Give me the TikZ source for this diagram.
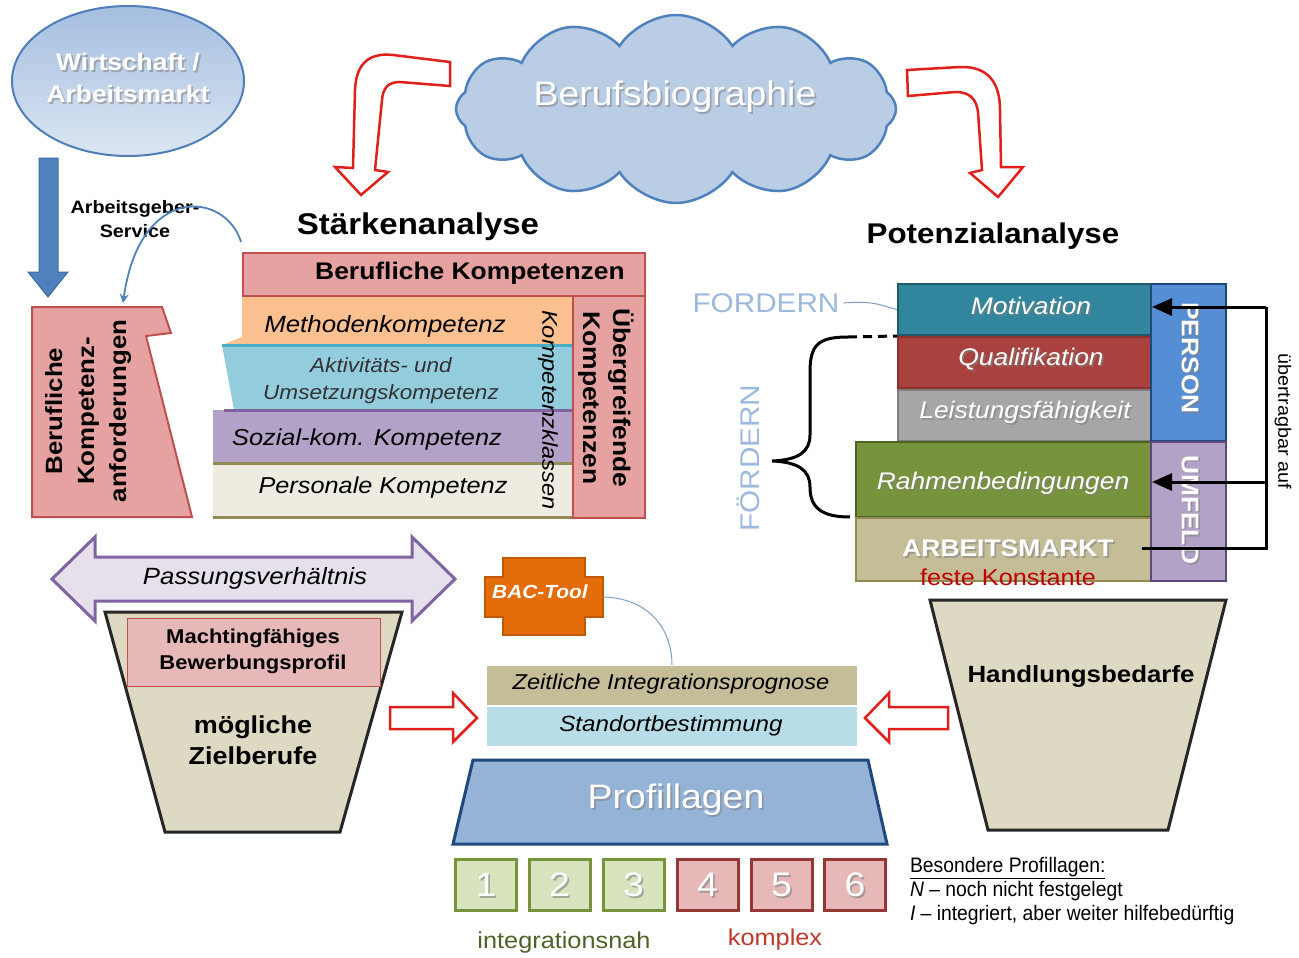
\documentclass[tikz,border=0pt]{standalone}
\usepackage{fontspec}
\setmainfont{Liberation Sans}[FakeStretch=1.1]
\newfontfamily\narrowf{Liberation Sans}[FakeStretch=0.92]
\usetikzlibrary{shapes.symbols,shapes.geometric,arrows.meta}
\newcommand\fsz[1]{\fontsize{#1}{\fpeval{1.15*#1}}\selectfont}
\newcommand\shnode[4]{%
  \node[#2, text=black!50, opacity=0.55] (#1s) at ([shift={(1.8,1.8)}]#3) {#4};
  \node[#2] (#1) at (#3) {#4};}

\definecolor{wBorder}{HTML}{4F7EBA}
\definecolor{wTop}{HTML}{A4BEE0}
\definecolor{wBot}{HTML}{DCE6F2}
\definecolor{cloudF}{HTML}{B9CDE5}
\definecolor{arrBlue}{HTML}{4F81BD}
\definecolor{arrBlueD}{HTML}{3C6CA8}
\definecolor{redA}{HTML}{E0201B}
\definecolor{pinkF}{HTML}{E6A2A1}
\definecolor{pinkD}{HTML}{C0504D}
\definecolor{orangeF}{HTML}{FAC090}
\definecolor{blueF}{HTML}{93CDDD}
\definecolor{tealL}{HTML}{4BACC6}
\definecolor{purpleF}{HTML}{B3A2C7}
\definecolor{purpleD}{HTML}{8064A2}
\definecolor{beigeF}{HTML}{EEECE1}
\definecolor{oliveD}{HTML}{948A54}
\definecolor{lavF}{HTML}{E5E0EC}
\definecolor{funnelF}{HTML}{DDD9C3}
\definecolor{funnelD}{HTML}{262626}
\definecolor{machF}{HTML}{E6B9B8}
\definecolor{bacF}{HTML}{E46C0A}
\definecolor{bacD}{HTML}{C05A08}
\definecolor{tanF}{HTML}{C4BD97}
\definecolor{standF}{HTML}{B7DEE8}
\definecolor{profF}{HTML}{95B3D7}
\definecolor{profD}{HTML}{1F497D}
\definecolor{greenF}{HTML}{D7E4BD}
\definecolor{greenD}{HTML}{77933C}
\definecolor{redF}{HTML}{E6B9B8}
\definecolor{redD}{HTML}{953735}
\definecolor{motF}{HTML}{31859C}
\definecolor{motD}{HTML}{215968}
\definecolor{qualF}{HTML}{A9423F}
\definecolor{qualD}{HTML}{8B3230}
\definecolor{leistF}{HTML}{A6A6A6}
\definecolor{leistD}{HTML}{7F7F7F}
\definecolor{rahmF}{HTML}{77933C}
\definecolor{rahmD}{HTML}{4F6228}
\definecolor{persF}{HTML}{558ED5}
\definecolor{umfF}{HTML}{B3A2C7}
\definecolor{umfD}{HTML}{5F497A}
\definecolor{fordC}{HTML}{9DB9DE}
\definecolor{intC}{HTML}{4F6228}
\definecolor{kompC}{HTML}{C0392B}
\definecolor{festC}{HTML}{C00000}
\definecolor{thinC}{HTML}{7F9FC8}

\tikzset{
  txt/.style={inner sep=0pt, outer sep=0pt},
  openarrow/.style={draw=redA, fill=white, line width=2.5pt, line join=miter},
  box/.style={draw, line width=2pt, inner sep=0pt, anchor=north west},
  stacktxt/.style={txt, text=white, font=\itshape\fsz{24}},
  numbox/.style={draw, line width=3pt, minimum width=61pt, minimum height=51pt, inner sep=0pt},
  blackarrow/.style={line width=3pt, -{Triangle[length=20pt,width=17pt]}},
  funnel/.style={fill=funnelF, draw=funnelD, line width=3pt, line join=miter},
}

\begin{document}
\begin{tikzpicture}[x=1pt,y=-1pt]
\useasboundingbox (0,0) rectangle (1299,958);
\fill[white] (0,0) rectangle (1299,958);

% ---------- Wirtschaft / Arbeitsmarkt ----------
\node[ellipse, draw=wBorder, line width=2pt, top color=wTop, bottom color=wBot,
      minimum width=232pt, minimum height=150pt] (wirt) at (128,81) {};
\shnode{wirtt}{txt, text=white, font=\bfseries\fontsize{24}{32}\selectfont, align=center}{128,78}{Wirtschaft /\\Arbeitsmarkt}

% blue block arrow down
\fill[arrBlue, draw=arrBlueD, line width=1pt]
  (39,158) -- (58,158) -- (58,272) -- (68,272) -- (48,297) -- (28,272) -- (39,272) -- cycle;

\node[txt, font=\bfseries\fontsize{18}{24}\selectfont, align=center] (ags) at (135,219) {Arbeitsgeber-\\Service};

% ---------- Cloud ----------
\node[cloud, cloud puffs=12, cloud puff arc=115, cloud ignores aspect, draw=arrBlue, line width=2.5pt,
      fill=cloudF, minimum width=440pt, minimum height=188pt] (cloud) at (676,109) {};
\shnode{cloudt}{txt, text=white, font=\fsz{34}}{675,97}{Berufsbiographie}

% bent red arrows
\path[openarrow] (450,62) -- (393,55) .. controls (365,52) and (356,68) .. (355,90) -- (353,168)
  -- (335,167) -- (361,195) -- (388,172) -- (375,170) -- (382,100)
  .. controls (383,88) and (388,82) .. (400,82) -- (450,86) -- cycle;
\path[openarrow] (907,70) -- (960,67) .. controls (990,66) and (1000,85) .. (1000,110) -- (1001,167)
  -- (1023,167) -- (998,197) -- (970,173) -- (982,170) -- (978,112)
  .. controls (976,97) and (968,92) .. (955,92) -- (908,96) -- cycle;

% titles
\node[txt, font=\bfseries\fsz{30}] (staerke) at (418,227) {Stärkenanalyse};
\node[txt, font=\bfseries\fsz{28.5}] (potenz) at (993,236) {Potenzialanalyse};

% ---------- Stärkenanalyse block ----------
\fill[orangeF] (242,296) -- (572,296) -- (572,345) -- (222,345) -- (242,337) -- cycle;
\fill[blueF] (222,345) -- (572,345) -- (572,410) -- (234,410) -- cycle;
\fill[purpleF] (213,410) -- (572,410) -- (572,463) -- (213,463) -- cycle;
\fill[beigeF] (213,463) -- (572,463) -- (572,517) -- (213,517) -- cycle;
\draw[tealL, line width=3pt] (222,345) -- (572,345);
\draw[purpleD, line width=3pt] (224,410) -- (572,410);
\draw[oliveD, line width=3pt] (213,463) -- (572,463);
\draw[oliveD, line width=3pt] (213,517) -- (572,517);
\node[box, draw=pinkD, fill=pinkF, minimum width=402pt, minimum height=43pt] (bk) at (242,252) {};
\node[txt, font=\bfseries\fsz{24}] (bkt) at (470,273) {Berufliche Kompetenzen};
\node[box, draw=pinkD, fill=pinkF, minimum width=72pt, minimum height=222pt] (ueb) at (572,295) {};
\node[txt, rotate=-90, font=\bfseries\fontsize{24}{30}\selectfont, align=center] (uebt) at (606,398) {Übergreifende\\Kompetenzen};
\node[txt, rotate=-90, font=\itshape\fsz{21.5}] (kkl) at (548,410) {Kompetenzklassen};

\node[txt, font=\itshape\fsz{23.5}] (meth) at (385,326) {Methodenkompetenz};
\node[txt, font=\itshape\fontsize{20.5}{27}\selectfont, text=black!80, align=center] (akt) at (381,381) {Aktivitäts- und\\Umsetzungskompetenz};
\node[txt, font=\itshape\fsz{23}] (soz) at (367,440) {Sozial-kom. Kompetenz};
\node[txt, font=\itshape\fsz{23}] (pers) at (383,488) {Personale Kompetenz};

% Berufliche Kompetenzanforderungen
\path[fill=pinkF, draw=pinkD, line width=2pt]
  (32,307) -- (162,307) -- (171,333) -- (146,336) -- (192,517) -- (32,517) -- cycle;
\node[txt, rotate=90, font=\bfseries\fontsize{23.5}{32}\selectfont, align=center] (kanf) at (88,411) {Berufliche\\Kompetenz-\\anforderungen};

% Arbeitsgeber-Service curved arrow
\coordinate (agsA) at (241,242);
\coordinate (agsB) at (123,303);
\draw[arrBlue, line width=1.8pt, -{Stealth[length=9pt,width=9pt]}] (agsA) .. controls (226,192) and (140,182) .. (agsB);

% ---------- Passungsverhältnis / Zielberufe ----------
\path[funnel] (105,612) -- (402,612) -- (340,832) -- (165,832) -- cycle;
\node[box, draw=pinkD, line width=1pt, fill=machF, minimum width=253pt, minimum height=68pt] (mach) at (127,618) {};
\node[txt, font=\bfseries\fontsize{20}{26}\selectfont, align=center] (macht) at (253,651) {Machtingfähiges\\Bewerbungsprofil};
\node[txt, font=\bfseries\fontsize{24.5}{31}\selectfont, align=center] (ziel) at (253,740) {mögliche\\Zielberufe};

\path[fill=lavF, draw=purpleD, line width=3pt, line join=miter]
  (52,579) -- (95,537) -- (95,557) -- (412,557) -- (412,537) -- (455,579)
  -- (412,621) -- (412,601) -- (95,601) -- (95,621) -- cycle;
\node[txt, font=\itshape\fsz{23.5}] (pass) at (255,578) {Passungsverhältnis};

% red straight arrows
\path[openarrow] (390,707) -- (453,707) -- (453,693) -- (477,718) -- (453,742) -- (453,729) -- (390,729) -- cycle;
\path[openarrow] (865,718) -- (889,693) -- (889,707) -- (948,707) -- (948,729) -- (889,729) -- (889,742) -- cycle;

% ---------- centre ----------
\path[fill=bacF, draw=bacD, line width=2pt, line join=miter]
  (503,558) -- (585,558) -- (585,577) -- (603,577) -- (603,617) -- (585,617) -- (585,635)
  -- (503,635) -- (503,617) -- (485,617) -- (485,577) -- (503,577) -- cycle;
\node[txt, text=white, font=\bfseries\itshape\fsz{19}] (bac) at (540,592) {BAC-Tool};
\coordinate (bacE) at (603,597);

\node[box, draw=none, fill=tanF, minimum width=370pt, minimum height=39pt] (zeit) at (486,665) {};
\node[box, draw=none, fill=standF, minimum width=370pt, minimum height=39pt] (stand) at (486,706) {};
\node[txt, font=\itshape\fsz{21.5}] (zeitt) at (671,684) {Zeitliche Integrationsprognose};
\node[txt, font=\itshape\fsz{22}] (standt) at (671,726) {Standortbestimmung};
\draw[thinC, line width=1pt] (bacE) .. controls (648,598) and (672,628) .. (zeit.north);

\path[fill=profF, draw=profD, line width=3pt, line join=miter] (473,760) -- (868,760) -- (887,844) -- (453,844) -- cycle;
\shnode{prof}{txt, text=white, font=\fsz{34}}{676,800}{Profillagen}

\foreach \i/\x/\f/\d in {1/486/greenF/greenD, 2/559.5/greenF/greenD, 3/633.5/greenF/greenD,
                         4/707.5/redF/redD, 5/781.5/redF/redD, 6/855/redF/redD} {
  \node[numbox, fill=\f, draw=\d] (nb\i) at (\x,885) {};
  \node[txt, font=\fsz{34}, text=black!50, opacity=0.6] (nbs\i) at (\x+1.8,887) {\i};
  \node[txt, font=\fsz{34}, text=white] (nbt\i) at (\x,885) {\i};
}
\node[txt, font=\fsz{23}, text=intC] (inah) at (564,943) {integrationsnah};
\node[txt, font=\fsz{23}, text=kompC] (kompl) at (775,940) {komplex};
\node[txt, anchor=north west, align=left, font=\narrowf\fontsize{21}{24}\selectfont] (bes) at (910,857)
  {\underline{Besondere Profillagen:}\\\textit{N} – noch nicht festgelegt\\\textit{I} – integriert, aber weiter hilfebedürftig};

% ---------- Potenzialanalyse block ----------
\node[box, draw=motD, fill=motF, minimum width=253pt, minimum height=51pt] (mot) at (897,283) {};
\node[box, draw=qualD, fill=qualF, minimum width=253pt, minimum height=51pt] (qual) at (897,336) {};
\node[box, draw=leistD, fill=leistF, minimum width=253pt, minimum height=51pt] (leist) at (897,389) {};
\node[box, draw=rahmD, fill=rahmF, minimum width=295pt, minimum height=75pt] (rahm) at (855,441) {};
\node[box, draw=oliveD, fill=tanF, minimum width=295pt, minimum height=63pt] (amkt) at (855,517) {};
\node[box, draw=profD, fill=persF, minimum width=75pt, minimum height=157pt] (person) at (1150,283) {};
\node[box, draw=umfD, fill=umfF, minimum width=75pt, minimum height=139pt] (umfeld) at (1150,441) {};

\shnode{mott}{stacktxt}{1031,306}{Motivation}
\shnode{qualt}{stacktxt}{1031,359}{Qualifikation}
\shnode{leistt}{stacktxt}{1025,412}{Leistungsfähigkeit}
\shnode{rahmt}{stacktxt}{1003,483}{Rahmenbedingungen}
\shnode{amktt}{txt, text=white, font=\bfseries\fsz{24}}{1008,548}{ARBEITSMARKT}
\node[txt, text=festC, font=\fsz{23}] (fest) at (1008,577) {feste Konstante};
\shnode{persont}{txt, rotate=-90, text=white, font=\bfseries\fsz{24}}{1190,358}{PERSON}
\shnode{umfeldt}{txt, rotate=-90, text=white, font=\bfseries\fsz{24}}{1190,510}{UMFELD}

\coordinate (amE) at (1142,548);
\coordinate (railB) at (1266,548);
\coordinate (railM) at (1266,482);
\coordinate (railT) at (1266,307);
\coordinate (persIn) at (1152,307);
\coordinate (umfIn) at (1152,482);
\draw[line width=3pt] (amE) -- (railB) -- (railT);
\draw[blackarrow] (railT) -- (persIn);
\draw[blackarrow] (railM) -- (umfIn);
\node[txt, rotate=-90, font=\fsz{18}] (uebtr) at (1283,421) {übertragbar auf};

\node[txt, text=fordC, font=\fsz{27}] (ford) at (766,303) {FORDERN};
\draw[thinC, line width=1pt] (ford.east) ++(4,0) .. controls (875,300) and (885,307) .. (mot.west);
\node[txt, rotate=90, text=fordC, font=\fsz{27}] (foerd) at (748,458) {FÖRDERN};

\coordinate (brT) at (848,337);
\coordinate (brB) at (850,517);
\coordinate (brTip) at (772,461);
\draw[line width=3pt, dash pattern=on 9pt off 6pt] (brT) -- (mot.south west);
\draw[line width=3pt] (brT) .. controls (818,337) and (810,345) .. (810,372) -- (810,435)
  .. controls (810,452) and (798,460) .. (brTip)
  .. controls (798,462) and (810,470) .. (810,487)
  .. controls (810,508) and (822,517) .. (brB);

% Handlungsbedarfe
\path[funnel] (930,600) -- (1226,600) -- (1168,830) -- (988,830) -- cycle;
\node[txt, font=\bfseries\fsz{23.5}] (handl) at (1081,676) {Handlungsbedarfe};

\end{tikzpicture}
\end{document}
